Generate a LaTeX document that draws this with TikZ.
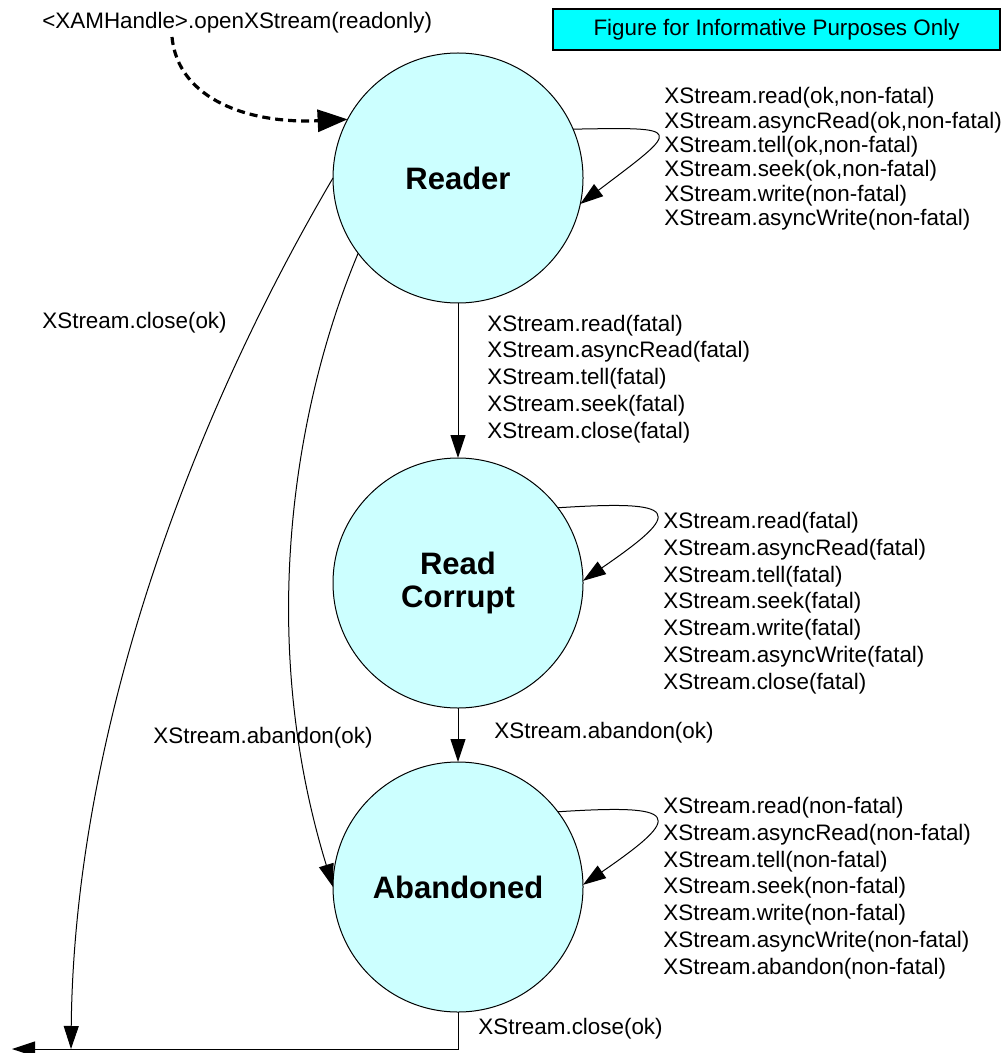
\documentclass[tikz,border=0pt]{standalone}
\usepackage{fontspec}
\setmainfont{Liberation Sans}
\usetikzlibrary{arrows.meta}

\definecolor{statefill}{RGB}{204,255,255}
\definecolor{notefill}{RGB}{0,255,255}

\begin{document}
\begin{tikzpicture}[
		x=0.5pt, y=-0.5pt,
		state/.style = {draw, circle, fill=statefill, minimum size=125pt, inner sep=0pt, outer sep=0pt,
			line width=0.5pt, align=center, font=\fontsize{15.5}{16.5}\selectfont\bfseries},
		lbl/.style = {anchor=west, inner sep=0pt, align=left, font=\fontsize{11.2}{13.4}\selectfont},
		banner/.style = {draw, fill=notefill, line width=0.8pt, minimum width=223.5pt, minimum height=20.5pt,
			inner sep=0pt, font=\fontsize{11.2}{13.4}\selectfont},
		trans/.style = {line width=0.5pt, -{Triangle[length=11.5pt, width=7.5pt]}},
		init/.style = {line width=1.6pt, dash pattern=on 4pt off 2.5pt, -{Triangle[length=15pt, width=11pt]}}
	]
	\useasboundingbox (0,0) rectangle (1006,1053);
	% States.
	\node[state] (reader) at (458,178) {Reader};
	\node[state] (corrupt) at (458,583) {Read\\Corrupt};
	\node[state] (abandoned) at (458,887) {Abandoned};
	% Header.
	\node[lbl] (title) at (42,23) {<XAMHandle>.openXStream(readonly)};
	\node[banner] (note) at (776.5,29.5) {Figure for Informative Purposes Only};
	\coordinate (dstart) at (172,37);
	\coordinate (closept) at (71,1049);
	\coordinate (exit) at (12,1049);
	% Labels.
	\node[lbl, font=\fontsize{11.2}{12.2}\selectfont] (readerloop) at (664,159) {XStream.read(ok,non-fatal)\\XStream.asyncRead(ok,non-fatal)\\XStream.tell(ok,non-fatal)\\XStream.seek(ok,non-fatal)\\XStream.write(non-fatal)\\XStream.asyncWrite(non-fatal)};
	\node[lbl] (fatalout) at (487,379) {XStream.read(fatal)\\XStream.asyncRead(fatal)\\XStream.tell(fatal)\\XStream.seek(fatal)\\XStream.close(fatal)};
	\node[lbl] (corruptloop) at (663,603) {XStream.read(fatal)\\XStream.asyncRead(fatal)\\XStream.tell(fatal)\\XStream.seek(fatal)\\XStream.write(fatal)\\XStream.asyncWrite(fatal)\\XStream.close(fatal)};
	\node[lbl] (abandonok) at (494,733) {XStream.abandon(ok)};
	\node[lbl] (abandonedloop) at (663,888) {XStream.read(non-fatal)\\XStream.asyncRead(non-fatal)\\XStream.tell(non-fatal)\\XStream.seek(non-fatal)\\XStream.write(non-fatal)\\XStream.asyncWrite(non-fatal)\\XStream.abandon(non-fatal)};
	\node[lbl] (closeok) at (478,1029) {XStream.close(ok)};
	\node[lbl] (closeleft) at (42,323) {XStream.close(ok)};
	\node[lbl] (abandonleft) at (153,738) {XStream.abandon(ok)};
	
	\draw[init] (dstart) .. controls (178,100) and (250,124) .. (reader.152);
	\draw[trans] (reader.23) .. controls +(112,-2) and +(102,-77) .. (reader.-12);
	\draw[trans] (corrupt.37) .. controls +(123,-8) and +(102,-70) .. (corrupt.1);
	\draw[trans] (abandoned.37) .. controls +(123,-8) and +(102,-70) .. (abandoned.1);
	\draw[trans] (reader) -- (corrupt);
	\draw[trans] (corrupt) -- (abandoned);
	\draw[trans] (reader.217) .. controls (299,394) and (253,626) .. (abandoned.180);
	\draw[trans] (reader.180) .. controls (172,452) and (74,760) .. (closept);
	\draw[trans] (abandoned.south) |- (exit);
\end{tikzpicture}
\end{document}
